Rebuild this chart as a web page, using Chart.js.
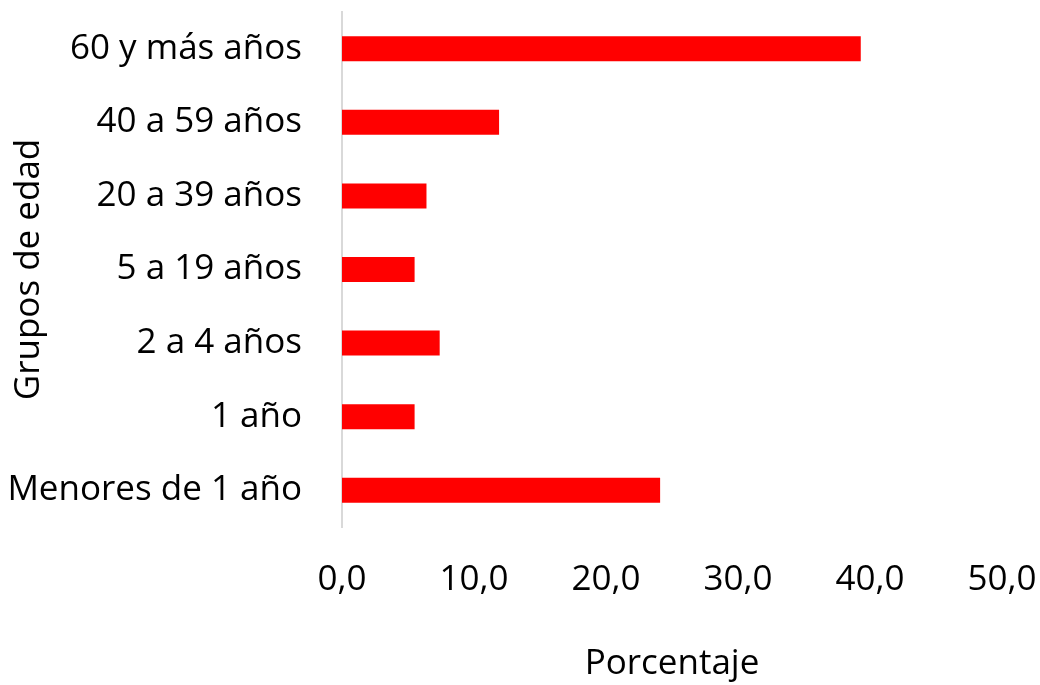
<!DOCTYPE html>
<html>
<head>
<meta charset="utf-8">
<script src="https://cdn.jsdelivr.net/npm/chart.js@4/dist/chart.umd.min.js"></script>
<style>
  html, body { margin: 0; padding: 0; background: #fff; }
  #wrap { width: 1040px; height: 685px; }
</style>
</head>
<body>
<div id="wrap"><canvas id="myChart"></canvas></div>
<script>
// age groups, top to bottom
var grupos = ["60 y más años", "40 a 59 años", "20 a 39 años", "5 a 19 años", "2 a 4 años", "1 año", "Menores de 1 año"];
var porcentajes = [39.3, 11.9, 6.4, 5.5, 7.4, 5.5, 24.1];
var xTicks = ["0,0", "10,0", "20,0", "30,0", "40,0", "50,0"];

var fuente = { family: "'Open Sans', sans-serif", size: 35 };

var ctx = document.getElementById("myChart").getContext("2d");
var myChart = new Chart(ctx, {
  type: "bar",
  data: {
    labels: grupos,
    datasets: [
      {
        data: porcentajes,
        backgroundColor: "#ff0000",
        borderWidth: 0,
        categoryPercentage: 1,
        barPercentage: 0.34
      }
    ]
  },
  options: {
    indexAxis: "y",
    responsive: true,
    maintainAspectRatio: false,
    animation: false,
    layout: { padding: { top: 12, left: 8, right: 38, bottom: 0 } },
    plugins: { legend: { display: false }, tooltip: { enabled: false } },
    scales: {
      x: {
        min: 0,
        max: 50,
        grid: { display: false, drawTicks: false },
        border: { display: false },
        ticks: {
          stepSize: 10,
          padding: 32,
          color: "#000",
          font: fuente,
          maxRotation: 0,
          callback: function(v, i) { return xTicks[i]; }
        },
        title: {
          display: true,
          text: "Porcentaje",
          color: "#000",
          font: fuente,
          padding: { top: 10, bottom: 0 }
        },
        // let layout padding decide the side margins
        afterFit: function(scale) {
          scale.paddingLeft = 0;
          scale.paddingRight = 0;
        }
      },
      y: {
        grid: { display: false, drawTicks: false },
        border: { display: true, color: "#d9d9d9", width: 2 },
        ticks: { padding: 40, color: "#000", font: fuente },
        title: {
          display: true,
          text: "Grupos de edad",
          color: "#000",
          font: fuente,
          padding: 0
        },
        // labels overlap the title horizontally, so pin the axis width
        afterFit: function(scale) {
          scale.width = 334;
          scale.paddingTop = 0;
          scale.paddingBottom = 0;
        }
      }
    }
  }
});
</script>
</body>
</html>
